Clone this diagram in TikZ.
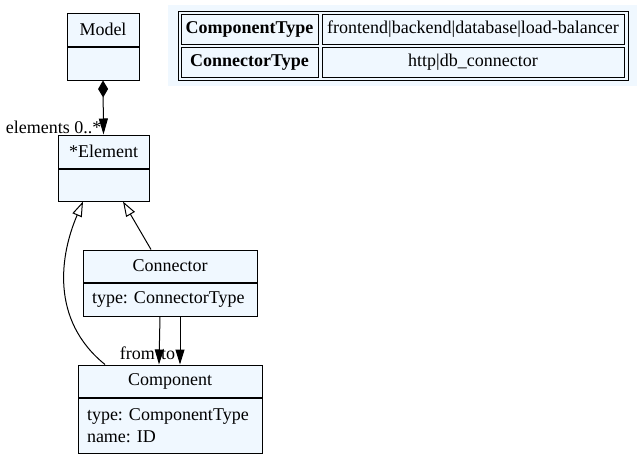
\documentclass[tikz,border=0pt]{standalone}
\usepackage{fontspec}
\setmainfont{Liberation Serif}
\usetikzlibrary{positioning}
\usetikzlibrary{arrows.meta}
\definecolor{aliceblue}{RGB}{240,248,255}
\frenchspacing

\begin{document}
\begin{tikzpicture}[x=1pt, y=-1pt,
    font=\fontsize{18}{22}\selectfont,
    classhead/.style={draw, fill=aliceblue, line width=1pt, inner sep=0pt},
    classbody/.style={draw, fill=aliceblue, line width=1pt, anchor=north, inner ysep=0pt, inner xsep=9pt, align=left},
    legendcell/.style={draw, fill=aliceblue, line width=1pt, inner sep=0pt, minimum height=30pt},
    compose/.style={line width=1pt, {Diamond[length=17pt,width=10pt]}-{Triangle[length=16pt,width=9pt]}},
    inherit/.style={line width=1pt, -{Triangle[open, length=15pt, width=10pt]}},
    assoc/.style={line width=1pt, -{Triangle[length=15pt,width=9pt]}}]
\useasboundingbox (0,0) rectangle (644,458);

% Classes
\node[classhead, minimum width=72pt, minimum height=33pt] (model) at (103,29.5) {Model};
\node[classbody, minimum width=72pt, minimum height=33pt] (modelbody) at (model.south) {};

\node[classhead, minimum width=91pt, minimum height=33pt] (element) at (103.5,151.5) {*Element};
\node[classbody, minimum width=91pt, minimum height=32pt] (elementbody) at (element.south) {};

\node[classhead, minimum width=174pt, minimum height=32pt] (connector) at (170,266) {Connector};
\node[classbody, text width=156pt, minimum height=33pt] (connectorbody) at (connector.south) {\hyphenpenalty=10000 type: ConnectorType};

\node[classhead, minimum width=184pt, minimum height=32pt] (component) at (170,381) {Component};
\node[classbody, text width=166pt, minimum height=55pt] (componentbody) at (component.south) {\hyphenpenalty=10000 type: ComponentType\\name: ID};

% Model contains elements
\draw[compose] (modelbody.south) -- (element.north);
\node[anchor=south east, inner sep=1pt] (elementslabel) at ([xshift=-1pt]element.north) {elements 0..*};

% Generalizations
\draw[inherit] ([xshift=-19pt]connector.north) -- ([xshift=19.5pt]elementbody.south);
\draw[inherit] ([xshift=-65pt]component.north) .. controls (50,320) and (60,255) .. ([xshift=-20.5pt]elementbody.south);

% Connector ends
\draw[assoc] ([xshift=-10pt]connectorbody.south) -- ([xshift=-11pt]component.north);
\draw[assoc] ([xshift=10pt]connectorbody.south) -- ([xshift=10pt]component.north);
\node[anchor=base east, inner sep=1pt] (fromlabel) at (156,359) {from};
\node[anchor=base west, inner sep=1pt] (tolabel) at (160,359) {to};

% Enumerations table
\fill[aliceblue] (168,5) rectangle (637,86);
\draw[line width=1pt] (178,11) rectangle (628,80);
\node[legendcell, minimum width=137pt, font=\fontsize{18}{22}\selectfont\bfseries] (comptype) at (249.5,29) {ComponentType};
\node[legendcell, minimum width=302pt] (compvalues) at (473,29) {frontend|backend|database|load-balancer};
\node[legendcell, minimum width=137pt, font=\fontsize{18}{22}\selectfont\bfseries] (conntype) at (249.5,62) {ConnectorType};
\node[legendcell, minimum width=302pt] (connvalues) at (473,62) {http|db\_connector};

\end{tikzpicture}
\end{document}
